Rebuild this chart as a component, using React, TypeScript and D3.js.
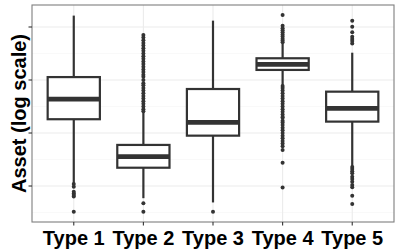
import React from 'react'
import * as d3 from 'd3'

// categories
const types = ['Type 1', 'Type 2', 'Type 3', 'Type 4', 'Type 5']

// box statistics, in log10(asset)
const whiskerLow = [2.11, 1.54, 1.38, 5.81, 2.75]
const lowerQuartile = [4.52, 2.69, 3.9, 6.38, 4.43]
const medians = [5.28, 3.11, 4.4, 6.59, 4.93]
const upperQuartile = [6.11, 3.55, 5.66, 6.82, 5.56]
const whiskerHigh = [8.43, 4.79, 8.24, 7.36, 7.03]

// outliers per type, log10(asset)
const outliers1 = [2.08, 1.97, 1.78, 1.72, 1.66, 1.6, 1.03]
const outliers2 = [
  7.7, 7.6, 7.5, 7.4, 7.3, 7.2, 7.1, 7.0, 6.9, 6.8, 6.7, 6.6, 6.5, 6.4, 6.3, 6.2, 6.12,
  6.0, 5.88, 5.8, 5.7, 5.6, 5.5, 5.4, 5.3, 5.2, 5.1, 5.0, 4.9, 4.82, 1.35, 1.03
]
const outliers3 = [1.03]
const outliers4 = [
  8.45, 8.05, 7.95, 7.88, 7.8, 7.72, 7.64, 7.56, 7.49, 7.42,
  5.77, 5.7, 5.6, 5.5, 5.4, 5.3, 5.2, 5.1, 5.0, 4.9, 4.8, 4.7, 4.6, 4.58,
  4.46, 4.4, 4.3, 4.2, 4.1, 4.0, 3.9, 3.8, 3.7, 3.6, 3.5, 3.36, 2.88, 1.94
]
const outliers5 = [
  8.24, 8.01, 7.8, 7.63, 7.55, 7.47, 7.38,
  2.72, 2.64, 2.56, 2.48, 2.35, 2.26, 2.16, 2.04, 1.95, 1.63, 1.32
]
const outliers = [outliers1, outliers2, outliers3, outliers4, outliers5]

const majorTicks = [1e2, 1e4, 1e6, 1e8]
const minorTicks = [1e1, 1e3, 1e5, 1e7]

const W = 400
const H = 250
const panel = { left: 32, right: 394, top: 5, bottom: 222 }
const ink = '#333333'
const font = '"Liberation Sans", Arial, sans-serif'

const App: React.FC = () => {
  const x = d3.scalePoint<string>()
    .domain(types)
    .range([panel.left, panel.right])
    .padding(0.6)

  const y = d3.scaleLog()
    .domain([10 ** 0.642, 10 ** 8.83])
    .range([panel.bottom, panel.top])

  const v = (e: number) => y(10 ** e)
  const boxW = x.step() * 0.75

  return (
    <svg width={W} height={H} style={{ position: 'absolute', left: 0, top: 0, background: '#fff' }}>
      <rect x={panel.left} y={panel.top} width={panel.right - panel.left} height={panel.bottom - panel.top} fill="#fff" />

      {/* grid */}
      {minorTicks.map(t => (
        <line key={'mn' + t} x1={panel.left} x2={panel.right} y1={y(t)} y2={y(t)} stroke="#f5f5f5" strokeWidth={0.6} />
      ))}
      {majorTicks.map(t => (
        <line key={'mj' + t} x1={panel.left} x2={panel.right} y1={y(t)} y2={y(t)} stroke="#ebebeb" strokeWidth={1.1} />
      ))}
      {types.map(t => (
        <line key={'vg' + t} x1={x(t)} x2={x(t)} y1={panel.top} y2={panel.bottom} stroke="#ebebeb" strokeWidth={1.1} />
      ))}

      {/* boxes */}
      {types.map((t, i) => {
        const cx = x(t) as number
        return (
          <g key={t}>
            <line x1={cx} x2={cx} y1={v(upperQuartile[i])} y2={v(whiskerHigh[i])} stroke={ink} strokeWidth={2.2} />
            <line x1={cx} x2={cx} y1={v(lowerQuartile[i])} y2={v(whiskerLow[i])} stroke={ink} strokeWidth={2.2} />
            <rect
              x={cx - boxW / 2}
              y={v(upperQuartile[i])}
              width={boxW}
              height={v(lowerQuartile[i]) - v(upperQuartile[i])}
              fill="#fff"
              stroke={ink}
              strokeWidth={2.2}
            />
            <line x1={cx - boxW / 2} x2={cx + boxW / 2} y1={v(medians[i])} y2={v(medians[i])} stroke={ink} strokeWidth={4.6} />
            {outliers[i].map((o, j) => (
              <circle key={j} cx={cx} cy={v(o)} r={2} fill={ink} />
            ))}
          </g>
        )
      })}

      {/* panel border */}
      <rect
        x={panel.left}
        y={panel.top}
        width={panel.right - panel.left}
        height={panel.bottom - panel.top}
        fill="none"
        stroke="#7f7f7f"
        strokeWidth={1.1}
      />

      {/* ticks */}
      {majorTicks.map(t => (
        <line key={'yt' + t} x1={panel.left - 3.5} x2={panel.left} y1={y(t)} y2={y(t)} stroke={ink} strokeWidth={1.1} />
      ))}
      {types.map(t => (
        <line key={'xt' + t} x1={x(t)} x2={x(t)} y1={panel.bottom} y2={panel.bottom + 3.5} stroke={ink} strokeWidth={1.1} />
      ))}

      {/* labels */}
      {types.map(t => (
        <text key={'xl' + t} x={x(t)} y={245} textAnchor="middle" fontFamily={font} fontWeight="bold" fontSize={20} fill="#000">
          {t}
        </text>
      ))}
      <text
        transform={`translate(26,${(panel.top + panel.bottom) / 2}) rotate(-90)`}
        textAnchor="middle"
        fontFamily={font}
        fontWeight="bold"
        fontSize={20}
        fill="#000"
      >
        Asset (log scale)
      </text>
    </svg>
  )
}

export default App
